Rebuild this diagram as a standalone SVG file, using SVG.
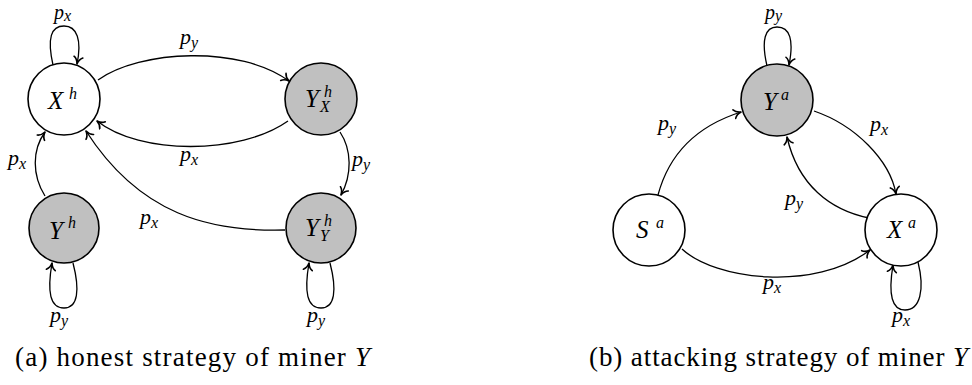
<svg xmlns="http://www.w3.org/2000/svg" width="972" height="385" viewBox="0 0 972 385" font-family="Liberation Serif, Tinos, Times New Roman, Noto Serif, DejaVu Serif, FreeSerif, serif">
<defs>
<style>
.node{stroke:#000;stroke-width:1.6}
.w{fill:#fff}
.g{fill:#c0c0c0}
.e{fill:none;stroke:#000;stroke-width:1.3;marker-end:url(#arr)}
.m{font-style:italic;font-size:22px;fill:#000}
.t{font-size:20px}
.n{font-style:italic;font-size:25px;fill:#000}
.s{font-size:16px}
.cap{font-size:27px;fill:#000}
.ci{font-style:italic}
</style>
<marker id="arr" viewBox="-8 -6 9 12" refX="0" refY="0" markerWidth="9" markerHeight="12" markerUnits="userSpaceOnUse" orient="auto">
<path d="M-7,-4.5 C-5.5,-1.8 -2.5,-0.5 0,0 C-2.5,0.5 -5.5,1.8 -7,4.5" fill="none" stroke="#000" stroke-width="1.6" stroke-linecap="round" stroke-linejoin="round"/>
</marker>
</defs>
<rect width="972" height="385" fill="#fff"/>
<g id="connectors">
<path class="e" d="M53,65 C47,38 51,26 64,26 C77,26 82,40 77,64"/>
<path class="e" d="M98,80 C140,50 240,45 289,81"/>
<path class="e" d="M288,121 C240,155 140,155 97,121"/>
<path class="e" d="M340,132 C352,150 352,175 341,195"/>
<path class="e" d="M45,196 C32,175 32,150 45,132"/>
<path class="e" d="M285,230 C210,232 140,215 86,131"/>
<path class="e" d="M73,263 C80,290 78,308 64,308 C50,308 47,292 52,263"/>
<path class="e" d="M330,263 C337,290 335,308 321,308 C307,308 304,292 309,263"/>
<path class="e" d="M767,66 C761,40 765,27 777,27 C790,27 794,40 789,65"/>
<path class="e" d="M658,195 C670,150 700,125 741,112"/>
<path class="e" d="M814,111 C855,125 890,160 896,194"/>
<path class="e" d="M869,218 C830,210 798,185 787,137"/>
<path class="e" d="M682,249 C715,280 815,292 870,250"/>
<path class="e" d="M918,262 C925,290 920,310 905,310 C892,310 888,295 893,265"/>
</g>
<g id="labels">
<text class="m t" x="54" y="19">p<tspan class="s" dy="2">x</tspan></text>
<text class="m" x="180" y="44">p<tspan class="s" dy="4">y</tspan></text>
<text class="m" x="180" y="161">p<tspan class="s" dy="4">x</tspan></text>
<text class="m" x="352" y="166">p<tspan class="s" dy="4">y</tspan></text>
<text class="m" x="8" y="165">p<tspan class="s" dy="4">x</tspan></text>
<text class="m" x="140" y="224">p<tspan class="s" dy="4">x</tspan></text>
<text class="m" x="50" y="322">p<tspan class="s" dy="4">y</tspan></text>
<text class="m" x="307" y="322">p<tspan class="s" dy="4">y</tspan></text>
<text class="m t" x="765" y="19">p<tspan class="s" dy="2">y</tspan></text>
<text class="m" x="658" y="130">p<tspan class="s" dy="4">y</tspan></text>
<text class="m" x="870" y="131">p<tspan class="s" dy="4">x</tspan></text>
<text class="m" x="785" y="205">p<tspan class="s" dy="4">y</tspan></text>
<text class="m" x="763" y="289">p<tspan class="s" dy="4">x</tspan></text>
<text class="m" x="892" y="322">p<tspan class="s" dy="4">x</tspan></text>
</g>
<g id="Xh"><circle class="node w" cx="64" cy="99" r="36"/><text class="n" x="48" y="109">X<tspan class="s" x="69" y="99">h</tspan></text></g>
<g id="YXh"><circle class="node g" cx="321" cy="99" r="36"/><text class="n" x="305" y="107">Y<tspan class="s" x="324" y="97">h</tspan><tspan class="s" x="320" y="112">X</tspan></text></g>
<g id="Yh"><circle class="node g" cx="64" cy="228" r="35"/><text class="n" x="49" y="239">Y<tspan class="s" x="68" y="228">h</tspan></text></g>
<g id="YYh"><circle class="node g" cx="321" cy="228" r="35"/><text class="n" x="305" y="236">Y<tspan class="s" x="324" y="226">h</tspan><tspan class="s" x="320" y="241">Y</tspan></text></g>
<g id="Ya"><circle class="node g" cx="777" cy="100" r="36"/><text class="n" x="763" y="110">Y<tspan class="s" x="781" y="100">a</tspan></text></g>
<g id="Sa"><circle class="node w" cx="649" cy="230" r="36"/><text class="n" x="636" y="238">S<tspan class="s" x="656" y="228">a</tspan></text></g>
<g id="Xa"><circle class="node w" cx="901" cy="230" r="36"/><text class="n" x="887" y="238">X<tspan class="s" x="908" y="228">a</tspan></text></g>
<g id="captions">
<text class="cap" x="15" y="366" textLength="355" lengthAdjust="spacing">(a) honest strategy of miner <tspan class="ci">Y</tspan></text>
<text class="cap" x="589" y="366" textLength="379" lengthAdjust="spacing">(b) attacking strategy of miner <tspan class="ci">Y</tspan></text>
</g>
</svg>
